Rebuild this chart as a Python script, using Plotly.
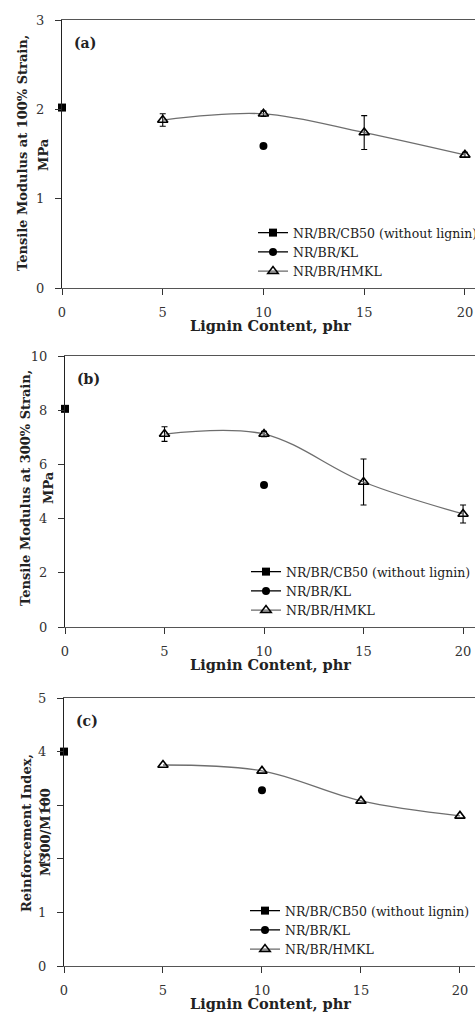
import plotly.graph_objects as go

W, H = 475, 1012

# Lignin content (phr)
lignin_hmkl = [5, 10, 15, 20]
lignin_kl = [10]
lignin_cb = [0]

# (a) Tensile modulus at 100% strain, MPa
m100_cb = [2.02]
m100_kl = [1.59]
m100_hmkl = [1.88, 1.95, 1.74, 1.49]
m100_hmkl_err = [0.07, 0.03, 0.19, 0.03]

# (b) Tensile modulus at 300% strain, MPa
m300_cb = [8.05]
m300_kl = [5.24]
m300_hmkl = [7.12, 7.12, 5.35, 4.17]
m300_hmkl_err = [0.27, 0.1, 0.85, 0.33]

# (c) Reinforcement index M300/M100
ri_cb = [4.0]
ri_kl = [3.28]
ri_hmkl = [3.75, 3.64, 3.08, 2.8]

series_names = ["NR/BR/CB50 (without lignin)", "NR/BR/KL", "NR/BR/HMKL"]
panel_tags = ["(a)", "(b)", "(c)"]
ytitles = [("Tensile Modulus at 100% Strain,", "MPa"),
           ("Tensile Modulus at 300% Strain,", "MPa"),
           ("Reinforcement Index,", "M300/M100")]
xtitle = "Lignin Content, phr"
ymax = [3, 10, 5]
ydtick = [1, 2, 1]

SERIF = "DejaVu Serif"
LINE_GREY = "#6e6e6e"


def px(x):
    return x / W


def py(y):
    return 1 - y / H


# panel geometry in page pixels: (top, bottom, left, x max)
panels = [(20, 288, 62, 20.5), (356, 627, 65, 20.6), (698, 966, 64, 20.76)]

fig = go.Figure()

data = [
    (m100_cb, m100_kl, m100_hmkl, m100_hmkl_err),
    (m300_cb, m300_kl, m300_hmkl, m300_hmkl_err),
    (ri_cb, ri_kl, ri_hmkl, None),
]

legend_keys = ["legend", "legend2", "legend3"]
legend_text_x = [290, 283, 282]

for i, (cb, kl, hm, err) in enumerate(data):
    xa = "x" if i == 0 else f"x{i+1}"
    ya = "y" if i == 0 else f"y{i+1}"
    lg = legend_keys[i]
    fig.add_trace(go.Scatter(
        x=lignin_cb, y=cb, name=series_names[0], mode="lines+markers",
        xaxis=xa, yaxis=ya, legend=lg, cliponaxis=False,
        line=dict(color="black", width=1.3),
        marker=dict(symbol="square", size=8, color="black")))
    fig.add_trace(go.Scatter(
        x=lignin_kl, y=kl, name=series_names[1], mode="lines+markers",
        xaxis=xa, yaxis=ya, legend=lg, cliponaxis=False,
        line=dict(color="black", width=1.3),
        marker=dict(symbol="circle", size=8, color="black")))
    fig.add_trace(go.Scatter(
        x=lignin_hmkl, y=hm, name=series_names[2], mode="lines+markers",
        xaxis=xa, yaxis=ya, legend=lg, cliponaxis=False,
        line=dict(color=LINE_GREY, width=1.3, shape="spline", smoothing=1),
        marker=dict(symbol="triangle-up-open", size=9, color="black",
                    line=dict(width=1.6, color="black")),
        error_y=None if err is None else dict(
            type="data", array=err, visible=True, color="black",
            thickness=1.1, width=3)))

layout = dict(
    width=W, height=H,
    margin=dict(l=0, r=0, t=0, b=0, autoexpand=False),
    paper_bgcolor="white", plot_bgcolor="white",
    font=dict(family=SERIF, color="#222", size=13),
)

annotations = []
for i, (top, bot, left, xmax) in enumerate(panels):
    sfx = "" if i == 0 else str(i + 1)
    layout[f"xaxis{sfx}"] = dict(
        domain=[px(left), 1], range=[0, xmax], anchor=f"y{sfx}",
        tickvals=[0, 5, 10, 15, 20], ticks="outside", ticklen=6,
        tickcolor="#333", showline=True, linecolor="#555", linewidth=1.3,
        mirror=True, showgrid=False, zeroline=False,
        ticklabelstandoff=6,
        tickfont=dict(family=SERIF, size=13, color="#333"))
    layout[f"yaxis{sfx}"] = dict(
        domain=[py(bot), py(top)], range=[0, ymax[i]], anchor=f"x{sfx}",
        dtick=ydtick[i], ticks="outside", ticklen=6, tickcolor="#333",
        showline=True, linecolor="#222", linewidth=1.3,
        showgrid=False, zeroline=False, ticklabelstandoff=8,
        tickfont=dict(family=SERIF, size=13, color="#333"))

    lg = legend_keys[i]
    layout[lg] = dict(
        x=px(legend_text_x[i] - 37), xanchor="left",
        y=py(bot - 70), yanchor="top",
        bgcolor="rgba(0,0,0,0)", tracegroupgap=0,
        font=dict(family=SERIF, size=12.5, color="#222"),
        itemwidth=30)

    annotations.append(dict(
        text=panel_tags[i], xref="paper", yref="paper",
        x=px(left + 23), y=py(top + 23), showarrow=False,
        xanchor="center", yanchor="middle",
        font=dict(family=SERIF, size=14, color="#222", weight="bold")))
    annotations.append(dict(
        text=xtitle, xref="paper", yref="paper",
        x=px(270), y=py(bot + 37), showarrow=False,
        xanchor="center", yanchor="middle",
        font=dict(family=SERIF, size=14.5, color="#222", weight="bold")))

ytitle_pos = [((22, 153), (43, 155)), ((25, 488), (48, 488)), ((26, 833), (45, 832))]
for i, (l1, l2) in enumerate(ytitles):
    (x1, y1), (x2, y2) = ytitle_pos[i]
    for txt, xx, yy in ((l1, x1, y1), (l2, x2, y2)):
        annotations.append(dict(
            text=txt, xref="paper", yref="paper", x=px(xx), y=py(yy),
            showarrow=False, textangle=-90,
            xanchor="center", yanchor="middle",
            font=dict(family=SERIF, size=13, color="#222", weight="bold")))

layout["annotations"] = annotations
fig.update_layout(**layout)
fig.write_html("out.html")
